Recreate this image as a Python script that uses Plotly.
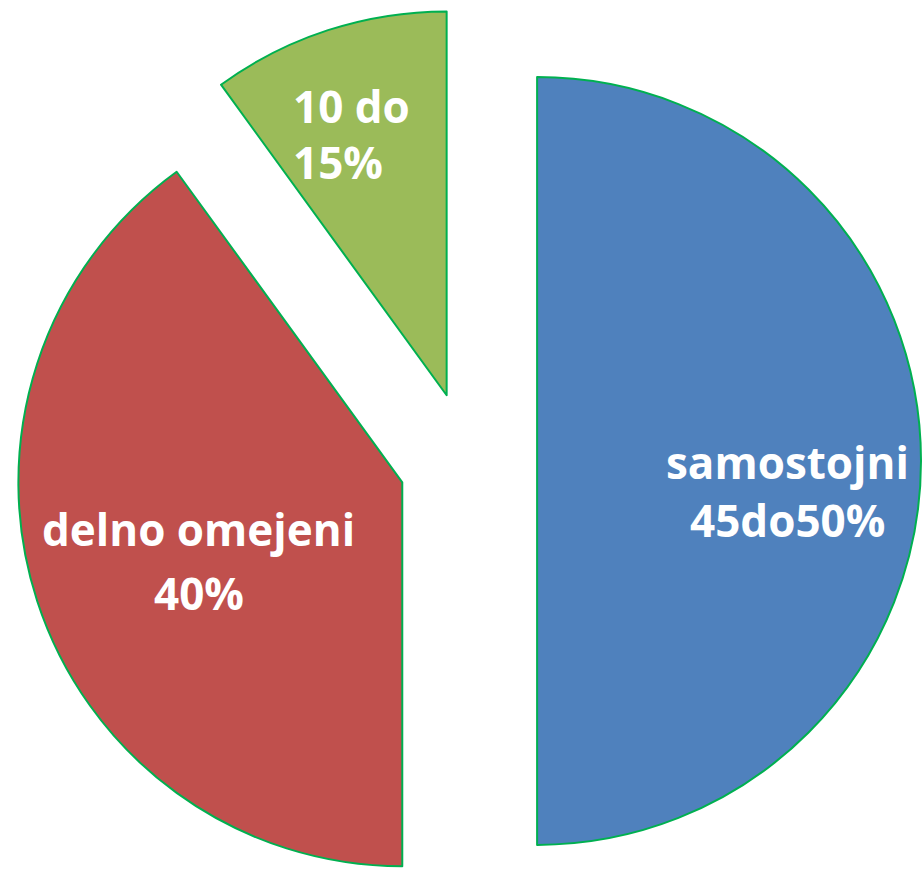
import plotly.graph_objects as go

# Data
categories = ["samostojni", "delno omejeni", "10 do 15%"]
values = [50, 40, 10]
colors = ["#4F81BD", "#C0504D", "#9BBB59"]
label_lines = [["samostojni", "45do50%"], ["delno omejeni", "40%"], ["10 do", "15%"]]

W, H = 923, 922

fig = go.Figure(go.Pie(
    labels=categories,
    values=values,
    sort=False,
    direction="clockwise",
    rotation=0,
    pull=[0.18, 0.18, 0.18],
    marker=dict(colors=colors, line=dict(color="#00B050", width=2)),
    textinfo="none",
    hoverinfo="label+percent",
    showlegend=False,
))

# label positions (pixel) -> paper
label_pos = [
    [(787, 462, "center"), (787, 521, "center")],
    [(187, 530, "center"), (187, 595, "center")],
    [(281, 100, "left"), (281, 157, "left")],
]
for lines, poss in zip(label_lines, label_pos):
    for txt, (px, py, anc) in zip(lines, poss):
        fig.add_annotation(
            x=px / W, y=1 - py / H, xref="paper", yref="paper",
            text=txt, showarrow=False, xanchor=anc, yanchor="middle",
            font=dict(family="Open Sans", size=44, color="white", weight="bold"),
        )

fig.update_layout(
    width=W, height=H,
    margin=dict(l=15, r=2, t=8, b=8),
    paper_bgcolor="white",
    plot_bgcolor="white",
)

fig.write_html(
    "out.html",
    config={"displayModeBar": False},
    post_script="document.body.style.margin='0';document.body.style.overflow='hidden';",
)
